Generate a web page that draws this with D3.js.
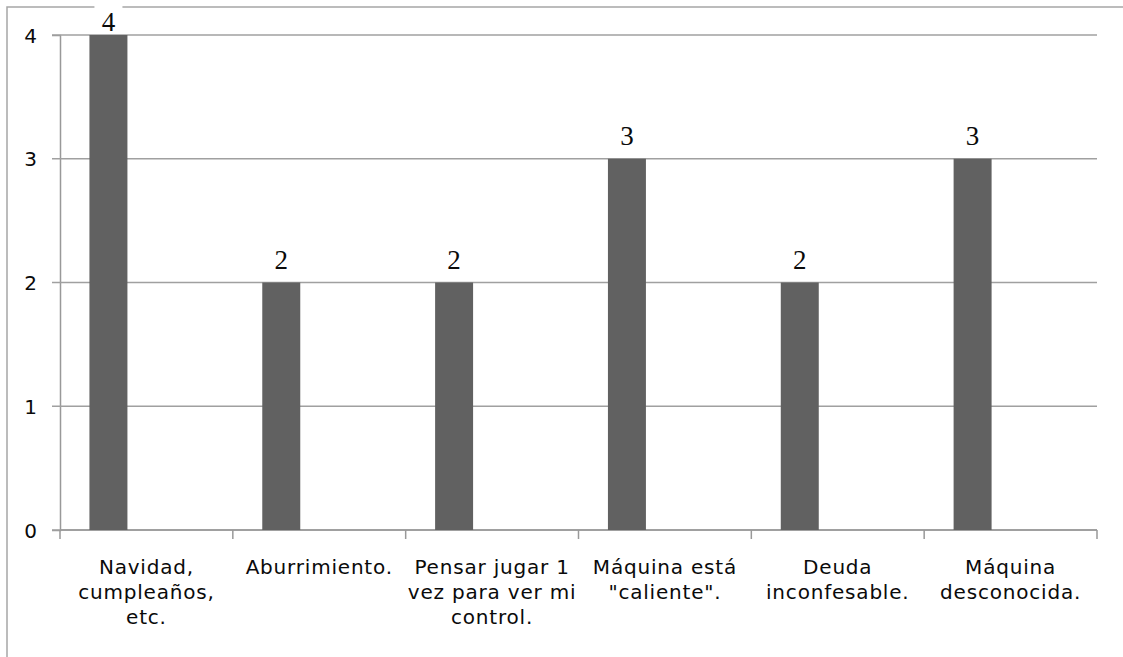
<!DOCTYPE html>
<html>
<head>
<meta charset="utf-8">
<script src="https://cdn.jsdelivr.net/npm/d3@7"></script>
<style>
    body { margin: 0; background: #fff; }
    svg { display: block; }
    .axis text { font-family: "DejaVu Sans", sans-serif; font-size: 20px; fill: #0a0a0a; }
    .xlabel { letter-spacing: 0.8px; }
    .value_label { font-family: "Liberation Serif", serif; font-size: 27px; fill: #0a0a0a; }
</style>
</head>
<body>
<div id="chart"></div>
<script>
// data
let categories = [
    ["Navidad,", "cumpleaños,", "etc."],
    ["Aburrimiento."],
    ["Pensar jugar 1", "vez para ver mi", "control."],
    ["Máquina está", "\"caliente\"."],
    ["Deuda", "inconfesable."],
    ["Máquina", "desconocida."]
];
let values = [4, 2, 2, 3, 2, 3];
let yTicks = [0, 1, 2, 3, 4];
// excel left room for three series in each category, only the first one is filled
let seriesSlots = ["s1", "s2", "s3"];

let W = 1123, H = 657;
let frame = {left: 7, top: 7};
let plot = {left: 60, right: 1097, top: 35, bottom: 530};

let svg = d3.select("#chart").append("svg")
    .attr("width", W)
    .attr("height", H);

// outer chart frame (cropped at right and bottom)
svg.append("path")
    .attr("d", "M" + frame.left + "," + H + "V" + frame.top + "H" + W)
    .attr("fill", "none")
    .attr("stroke", "#a6a6a6")
    .attr("stroke-width", 1.5);

let ids = categories.map(function(c, i) { return i; });

let xScale = d3.scaleBand().domain(ids).range([plot.left, plot.right]).padding(0);
let x1Scale = d3.scaleBand().domain(seriesSlots).range([0, xScale.bandwidth()])
    .paddingInner(0).paddingOuter(0.775);
let yScale = d3.scaleLinear().domain([0, 4]).range([plot.bottom, plot.top]);

// y axis
let yAxis = svg.append("g")
    .attr("class", "axis axis--y")
    .attr("transform", "translate(" + plot.left + ",0)")
    .call(d3.axisLeft(yScale).tickValues(yTicks).tickFormat(d3.format("d"))
        .tickSize(8).tickPadding(15));
yAxis.select(".domain").attr("stroke", "#999").attr("stroke-width", 1.5);
yAxis.selectAll(".tick line").remove();
yAxis.selectAll(".tick text").attr("dy", "0.36em");

// gridlines (start at the tick mark left of the axis)
svg.append("g").selectAll("line").data(yTicks).enter().append("line")
    .attr("x1", plot.left - 8)
    .attr("x2", plot.right)
    .attr("y1", function(d) { return yScale(d); })
    .attr("y2", function(d) { return yScale(d); })
    .attr("stroke", "#a0a0a0")
    .attr("stroke-width", 1.5);

// x axis with ticks between categories
let xAxis = svg.append("g").attr("class", "axis axis--x");
xAxis.append("line")
    .attr("x1", plot.left).attr("x2", plot.right)
    .attr("y1", plot.bottom).attr("y2", plot.bottom)
    .attr("stroke", "#999").attr("stroke-width", 1.5);
let edges = ids.map(function(i) { return xScale(i); }).concat([plot.right]);
xAxis.selectAll(".xtick").data(edges).enter().append("line")
    .attr("class", "xtick")
    .attr("x1", function(d) { return d; })
    .attr("x2", function(d) { return d; })
    .attr("y1", plot.bottom)
    .attr("y2", plot.bottom + 9)
    .attr("stroke", "#999").attr("stroke-width", 1.5);

let label = xAxis.selectAll(".xlabel").data(categories).enter().append("text")
    .attr("class", "xlabel")
    .attr("text-anchor", "middle")
    .attr("transform", function(d, i) {
        return "translate(" + (xScale(i) + xScale.bandwidth() / 2) + "," + (plot.bottom + 44) + ")";
    });
label.selectAll("tspan").data(function(d) { return d; }).enter().append("tspan")
    .attr("x", 0)
    .attr("y", function(d, i) { return i * 25; })
    .text(function(d) { return d; });

// bars
svg.append("g").selectAll(".bar").data(values).enter().append("rect")
    .attr("class", "bar")
    .attr("x", function(d, i) { return xScale(i) + x1Scale("s1"); })
    .attr("width", x1Scale.bandwidth())
    .attr("y", function(d) { return yScale(d); })
    .attr("height", function(d) { return yScale(0) - yScale(d); })
    .attr("fill", "#616161");

// value labels, pushed down when they would leave the chart area
let labelY = function(d) { return Math.max(yScale(d) - 14, frame.top + 24); };
let vl = svg.append("g").selectAll(".vl").data(values).enter().append("g")
    .attr("class", "vl")
    .attr("transform", function(d, i) {
        return "translate(" + (xScale(i) + x1Scale("s1") + x1Scale.bandwidth() / 2) + "," + labelY(d) + ")";
    });
vl.append("rect")
    .attr("x", -14).attr("y", -25)
    .attr("width", 28).attr("height", 27)
    .attr("fill", "#fff");
vl.append("text")
    .attr("class", "value_label")
    .attr("text-anchor", "middle")
    .text(function(d) { return d; });
</script>
</body>
</html>
